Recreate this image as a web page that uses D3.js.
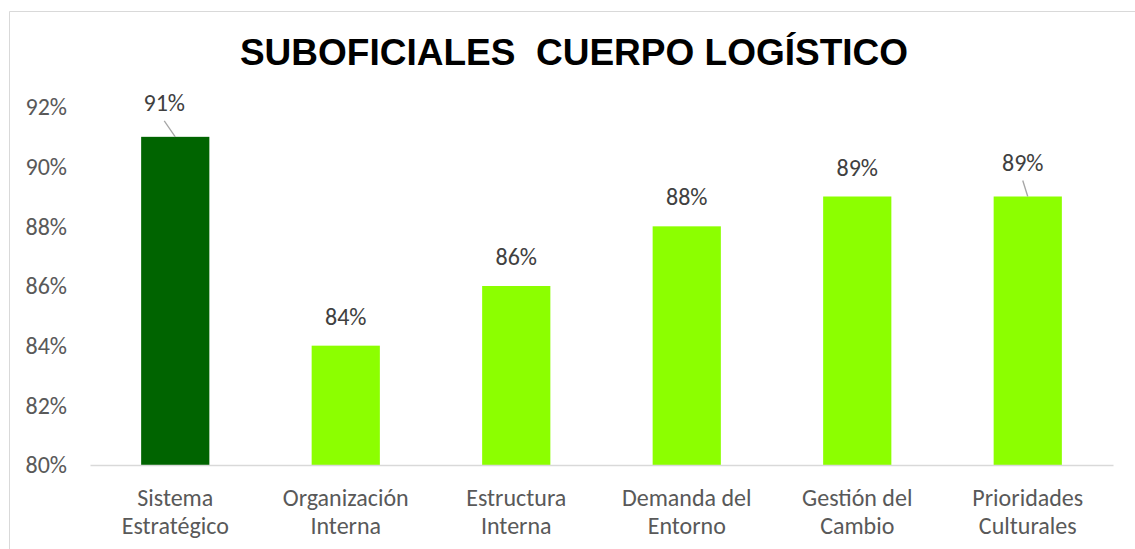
<!DOCTYPE html>
<html>
<head>
<meta charset="utf-8">
<script src="https://cdn.jsdelivr.net/npm/d3@7"></script>
<style>
  body { margin: 0; background: #fff; }
  svg { display: block; }
</style>
</head>
<body>
<div id="chart"></div>
<script>
// chart data
const categories = [
    ['Sistema', 'Estratégico'],
    ['Organización', 'Interna'],
    ['Estructura', 'Interna'],
    ['Demanda del', 'Entorno'],
    ['Gestión del', 'Cambio'],
    ['Prioridades', 'Culturales']
];
const values = [0.91, 0.84, 0.86, 0.88, 0.89, 0.89];
const yTicks = [0.80, 0.82, 0.84, 0.86, 0.88, 0.90, 0.92];
const title = 'SUBOFICIALES  CUERPO LOGÍSTICO';

const width = 1135, height = 549;
const margin = { top: 107, right: 22, bottom: 84, left: 90 };
const font = 'Carlito, Calibri, "Open Sans", sans-serif';

// labels moved off the bar by hand (drawn with a leader line)
const labelShift = { 0: { dx: -11, dy: -26 }, 5: { dx: -5, dy: -26 } };

const svg = d3.select('#chart')
    .append('svg')
    .attr('width', width)
    .attr('height', height);

// chart border, only top and left edges show
svg.append('line')
    .attr('x1', 9.5).attr('x2', width)
    .attr('y1', 11.5).attr('y2', 11.5)
    .attr('stroke', '#d9d9d9');
svg.append('line')
    .attr('x1', 9.5).attr('x2', 9.5)
    .attr('y1', 11.5).attr('y2', height)
    .attr('stroke', '#d9d9d9');

const x = d3.scaleBand()
    .domain(d3.range(categories.length))
    .range([margin.left, width - margin.right])
    .paddingInner(0.6)
    .paddingOuter(0.3);

const y = d3.scaleLinear()
    .domain([0.80, 0.92])
    .range([height - margin.bottom, margin.top]);

// title
svg.append('text')
    .attr('x', 574)
    .attr('y', 65)
    .attr('text-anchor', 'middle')
    .style('font-family', 'Arial, "Liberation Sans", sans-serif')
    .style('font-weight', 'bold')
    .style('font-size', '37px')
    .style('white-space', 'pre')
    .attr('fill', '#000')
    .text(title);

// y axis (labels only)
const yAxis = svg.append('g')
    .attr('transform', `translate(${margin.left},0)`)
    .call(d3.axisLeft(y).tickValues(yTicks).tickFormat(d3.format('.0%')).tickSize(0).tickPadding(23));
yAxis.select('.domain').remove();
yAxis.selectAll('text')
    .style('font-family', font)
    .style('font-size', '24px')
    .attr('fill', '#595959');

// bars
svg.append('g')
    .selectAll('rect')
    .data(values)
    .enter()
    .append('rect')
    .attr('x', (d, i) => x(i))
    .attr('y', d => y(d))
    .attr('width', x.bandwidth())
    .attr('height', d => y(0.80) - y(d))
    .attr('fill', (d, i) => i === 0 ? '#006400' : '#8cff00');

// x axis line and category labels
const xAxis = svg.append('g')
    .attr('transform', `translate(0,${y(0.80)})`)
    .call(d3.axisBottom(x).tickSize(0).tickFormat(''));
xAxis.select('.domain').attr('stroke', '#d9d9d9').attr('stroke-width', 1.5);

xAxis.selectAll('.tick text').remove();
xAxis.selectAll('.tick')
    .append('text')
    .attr('text-anchor', 'middle')
    .attr('fill', '#595959')
    .style('font-family', font)
    .style('font-size', '24px')
    .selectAll('tspan')
    .data(i => categories[i])
    .enter()
    .append('tspan')
    .attr('x', 0)
    .attr('y', (d, j) => 41 + j * 28)
    .text(d => d);

// data labels
const labels = svg.append('g')
    .selectAll('g')
    .data(values.map((v, i) => ({ v, i })))
    .enter()
    .append('g')
    .attr('transform', d => `translate(${x(d.i) + x.bandwidth() / 2},${y(d.v)})`);

labels.filter(d => labelShift[d.i])
    .append('line')
    .attr('x1', d => labelShift[d.i].dx).attr('y1', d => labelShift[d.i].dy + 10)
    .attr('x2', 0).attr('y2', 0)
    .attr('stroke', '#a6a6a6')
    .attr('stroke-width', 1.3);

labels.append('text')
    .attr('text-anchor', 'middle')
    .attr('x', d => labelShift[d.i] ? labelShift[d.i].dx : 0)
    .attr('y', d => labelShift[d.i] ? labelShift[d.i].dy : -21)
    .attr('fill', '#404040')
    .style('font-family', font)
    .style('font-size', '24px')
    .text(d => d3.format('.0%')(d.v));
</script>
</body>
</html>
